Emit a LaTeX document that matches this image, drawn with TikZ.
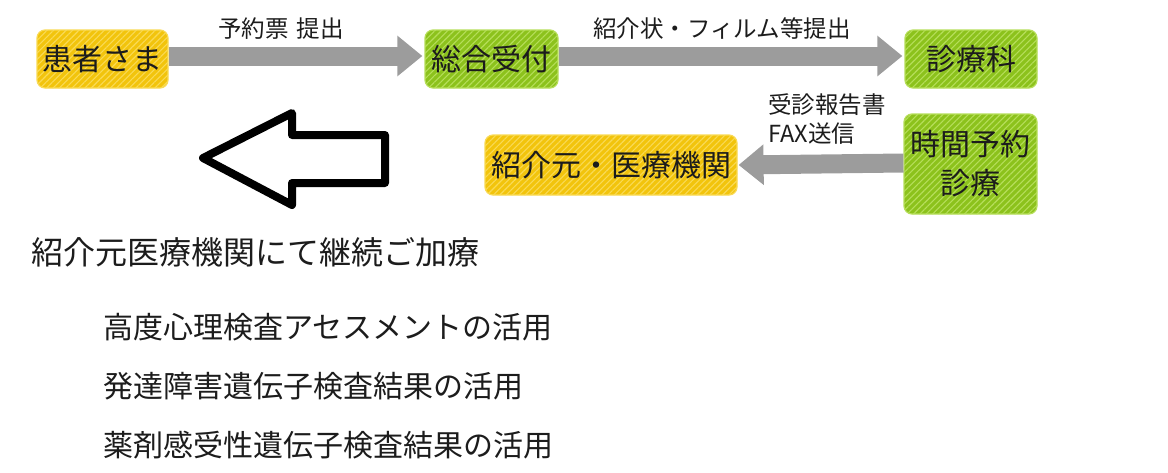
\documentclass[tikz,border=0pt]{standalone}
\usepackage{fontspec}
\newfontfamily\jp{Noto Sans CJK JP}
\usetikzlibrary{arrows.meta,patterns.meta}
\definecolor{yel}{HTML}{F2C40C}
\definecolor{yelhi}{HTML}{F9DA55}
\definecolor{grn}{HTML}{8CC21C}
\definecolor{grnhi}{HTML}{B6DE5A}
\definecolor{arrgray}{HTML}{9C9C9C}
\definecolor{txt}{HTML}{1C1C1C}
\begin{document}
\begin{tikzpicture}[x=1pt,y=-1pt,
  box/.style={rounded corners=8pt, inner sep=0pt, font=\jp\fontsize{30}{39}\selectfont, text=txt, align=center},
  yelbox/.style={box, fill=yel, draw=yelhi, line width=1.2pt,
    postaction={pattern={Lines[angle=45,distance=4.5pt,line width=1.1pt]}, pattern color=yelhi}},
  grnbox/.style={box, fill=grn, draw=grnhi, line width=1.2pt,
    postaction={pattern={Lines[angle=45,distance=4.5pt,line width=1.1pt]}, pattern color=grnhi}},
  flow/.style={draw=arrgray, line width=19pt, -{Triangle[length=25pt,width=39pt]}},
  lbl/.style={font=\jp\fontsize{23.5}{29}\selectfont, text=txt, inner sep=0pt, align=left},
  body/.style={font=\jp\fontsize{30}{36}\selectfont, text=txt, inner sep=0pt, anchor=west}
]
\useasboundingbox (0,0) rectangle (1168,472);

% boxes
\node[yelbox, minimum width=131pt, minimum height=58pt] (pat) at (102.5,59) {患者さま};
\node[grnbox, minimum width=133pt, minimum height=58pt] (uke) at (491.5,59) {総合受付};
\node[grnbox, minimum width=132pt, minimum height=58pt] (ka) at (971,59) {診療科};
\node[grnbox, minimum width=133pt, minimum height=100pt] (jikan) at (970.5,164) {時間予約\\診療};
\node[yelbox, minimum width=252pt, minimum height=60pt] (moto) at (611,165) {紹介元・医療機関};

% flow arrows
\draw[flow] ([yshift=3pt]pat.east) -- ([xshift=-2pt,yshift=3pt]uke.west);
\draw[flow] ([yshift=3pt]uke.east) -- ([xshift=-2pt,yshift=3pt]ka.west);
\draw[flow] ([yshift=1pt]jikan.west) -- ([xshift=1pt]moto.east);

% arrow labels
\node[lbl] (l1) at (281,29) {予約票\hspace{0.35em}提出};
\node[lbl] (l2) at (722,29) {紹介状・フィルム等提出};
\node[lbl, anchor=west] (l3) at (768,119) {受診報告書\\FAX送信};

% big outline arrow
\draw[line width=8pt, line join=round, black]
  (203,158) -- (292,113) -- (292,135) -- (385,135) -- (385,183) -- (292,183) -- (292,205) -- cycle;

% texts
\node[body, font=\jp\fontsize{32}{38}\selectfont] (t0) at (31,252) {紹介元医療機関にて継続ご加療};
\node[body] (t1) at (103,327) {高度心理検査アセスメントの活用};
\node[body] (t2) at (103,386) {発達障害遺伝子検査結果の活用};
\node[body] (t3) at (103,445) {薬剤感受性遺伝子検査結果の活用};
\end{tikzpicture}
\end{document}
